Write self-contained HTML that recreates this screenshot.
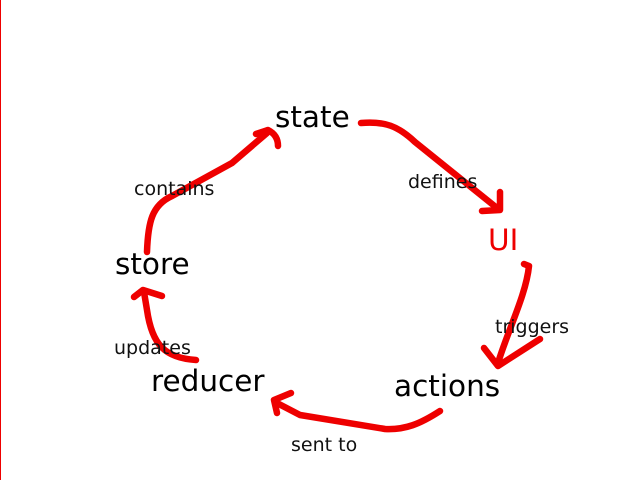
<!DOCTYPE html>
<html><head><meta charset="utf-8"><style>
html,body{margin:0;padding:0;background:#fff;width:640px;height:480px;overflow:hidden}
</style></head><body>
<svg width="640" height="480" viewBox="0 0 640 480" xmlns="http://www.w3.org/2000/svg">
<rect width="640" height="480" fill="#fff"/>
<line x1="0.5" y1="0" x2="0.5" y2="480" stroke="#e00" stroke-width="1"/>
<g fill="none" stroke="#ee0000" stroke-width="6.5" stroke-linecap="round" stroke-linejoin="round">
<path d="M361,123 C385,121 398,126 415,142 L497,208"/>
<path d="M482,211 L500,210 L500,192"/>
<path d="M147,252 C148,222 152,205 172,196 L232,163 L267,133"/>
<path d="M256,134 L268,130 C274,133 278,138 278,146"/>
<path d="M524,264 L529,266 C526,295 508,330 498,363"/>
<path d="M484,348 L498,366 L540,339"/>
<path d="M440,411 C420,424 405,430 385,429 L300,415 L275,402"/>
<path d="M291,393 L274,400 L277,413"/>
<path d="M196,360 C165,358 152,345 147,310 L144,292"/>
<path d="M134,297 L143,290 L162,296"/>
</g>
<g font-family="DejaVu Sans, Liberation Sans, sans-serif" fill="#000">
<text x="275" y="127" font-size="29.5">state</text>
<text x="488" y="250" font-size="29.5" fill="#ee0000">UI</text>
<text x="394" y="396" font-size="29.5">actions</text>
<text x="151" y="391" font-size="29.5">reducer</text>
<text x="115" y="274" font-size="29.5">store</text>
<g font-size="19" fill="#111">
<text x="134" y="195">contains</text>
<text x="408" y="188">defines</text>
<text x="495" y="333">triggers</text>
<text x="114" y="354">updates</text>
<text x="291" y="451">sent to</text>
</g>
</g>
</svg>
</body></html>
